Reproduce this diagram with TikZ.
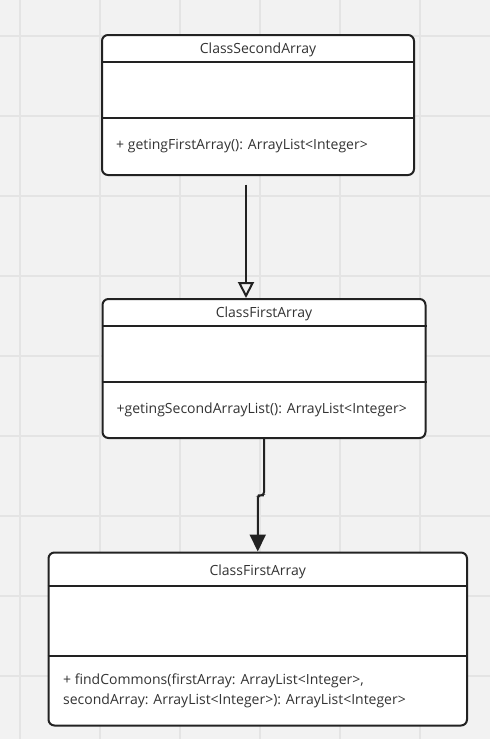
\documentclass[tikz,border=0pt]{standalone}
\usepackage{fontspec}
\setmainfont{Open Sans}
\usepackage{xcolor}
\usetikzlibrary{calc, arrows.meta}
\definecolor{boardbg}{HTML}{F2F2F2}
\definecolor{boardgrid}{HTML}{E4E4E4}
\definecolor{umlline}{HTML}{222222}
\definecolor{umltext}{HTML}{333333}
\tikzset{every node/.append style={font=\fontsize{14}{20}\selectfont, text=umltext}}
\tikzset{
    classbox/.style={draw=umlline, line width=2pt, rounded corners=6pt, fill=white, anchor=north west, inner sep=0pt},
    divider/.style={draw=umlline, line width=2pt},
    opline/.style={anchor=west, align=left, inner sep=0pt},
    inherit/.style={draw=umlline, line width=2pt, -{Triangle[open, length=16pt, width=16pt]}},
    assoc/.style={draw=umlline, line width=2pt, rounded corners=3pt, -{Triangle[length=17pt, width=16pt]}}
}

\begin{document}
\begin{tikzpicture}[x=1pt, y=-1pt]
    \useasboundingbox (0,0) rectangle (490,739);
    \fill[boardbg] (0,0) rectangle (490,739);
    \foreach \gx in {20,100,...,420} \draw[boardgrid, line width=1.5pt] (\gx,0) -- (\gx,739);
    \foreach \gy in {36,116,...,716} \draw[boardgrid, line width=1.5pt] (0,\gy) -- (490,\gy);

    % ClassSecondArray
    \node[classbox, minimum width=312pt, minimum height=140pt] (second) at (101,34) {};
    \draw[divider] ([yshift=-28pt]second.north west) -- ([yshift=-28pt]second.north east);
    \draw[divider] ([yshift=-84pt]second.north west) -- ([yshift=-84pt]second.north east);
    \node (secondname) at ([yshift=-16pt]second.north) {ClassSecondArray};
    \node[opline] (secondop) at ([xshift=15pt, yshift=-112pt]second.north west) {+ getingFirstArray(): ArrayList<Integer>};

    % ClassFirstArray
    \node[classbox, minimum width=323pt, minimum height=139pt] (first) at (101.5,298) {};
    \draw[divider] ([yshift=-27.5pt]first.north west) -- ([yshift=-27.5pt]first.north east);
    \draw[divider] ([yshift=-83.5pt]first.north west) -- ([yshift=-83.5pt]first.north east);
    \node (firstname) at ([yshift=-16pt]first.north) {ClassFirstArray};
    \node[opline] (firstop) at ([xshift=15pt, yshift=-112pt]first.north west) {+getingSecondArrayList(): ArrayList<Integer>};

    % ClassFirstArray (findCommons)
    \node[classbox, minimum width=418.5pt, minimum height=173pt] (commons) at (47.5,551.5) {};
    \draw[divider] ([yshift=-34.5pt]commons.north west) -- ([yshift=-34.5pt]commons.north east);
    \draw[divider] ([yshift=-104.5pt]commons.north west) -- ([yshift=-104.5pt]commons.north east);
    \node (commonsname) at ([yshift=-20pt]commons.north) {ClassFirstArray};
    \node[opline] (commonsop) at ([xshift=15.5pt, yshift=-139.5pt]commons.north west) {+ findCommons(firstArray: ArrayList<Integer>,\\secondArray: ArrayList<Integer>): ArrayList<Integer>};

    \draw[inherit] ([xshift=-12pt, yshift=-8.5pt]second.south) -- ([xshift=-18pt]first.north);
    \draw[assoc] (first.south) |- ($(first.south)!.5!(commons.north)$) -| (commons.north);
\end{tikzpicture}
\end{document}
